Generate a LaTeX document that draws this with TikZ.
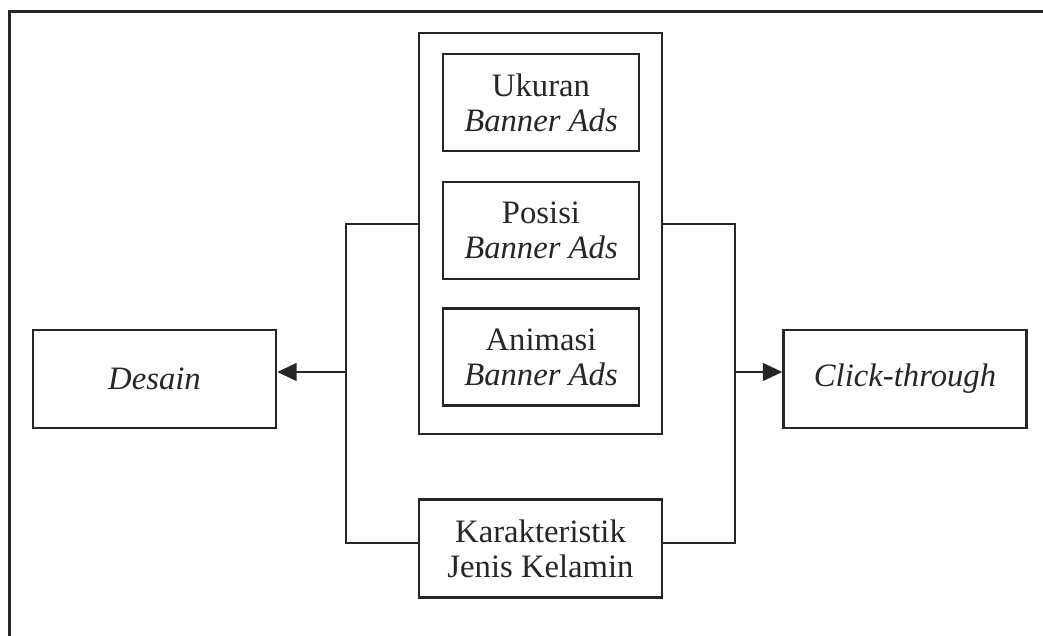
\documentclass[tikz,border=0pt]{standalone}
\usepackage{fontspec}
\setmainfont{Liberation Serif}
\usetikzlibrary{arrows.meta}
\begin{document}
\begin{tikzpicture}
	[
		every node/.style = {
			shape=rectangle, draw,
			align=center, inner sep=0pt,
			line width=.7pt,
			font=\fontsize{9.3}{10}\selectfont
		},
		line width=.7pt,
		color=black!85,
		box/.style={minimum width=2.43cm, minimum height=.98cm},
		item/.style={minimum width=1.96cm, minimum height=.97cm},
		link/.style={-{Triangle[length=5.5pt,width=5pt]}}
	]
	\useasboundingbox (0,0) rectangle (10.43,6.36);
	% frame of the page
	\draw (0.095,0) -- (0.095,6.245) -- (10.43,6.245);

	\node[minimum width=2.43cm, minimum height=4.01cm] (grp) at (5.405,4.025) {};
	\node[item] (ukuran) at (5.41,5.335) {Ukuran\\\textit{Banner Ads}};
	\node[item] (posisi) at (5.41,4.055) {Posisi\\\textit{Banner Ads}};
	\node[item] (animasi) at (5.41,2.79) {Animasi\\\textit{Banner Ads}};
	\node[box] (gender) at (5.405,0.875) {Karakteristik\\Jenis Kelamin};
	\node[box] (desain) at (1.545,2.57) {\textit{Desain}};
	\node[box] (click) at (9.05,2.57) {\textit{Click-through}};

	\coordinate (lft) at (3.46,2.64);
	\coordinate (rgt) at (7.35,2.64);

	\draw (grp.west |- 0,4.12) -| (lft) |- ([yshift=.55mm]gender.west);
	\draw (grp.east |- 0,4.12) -| (rgt) |- ([yshift=.55mm]gender.east);
	\draw[link] (lft) -- (desain.east |- lft);
	\draw[link] (rgt) -- (click.west |- rgt);
\end{tikzpicture}
\end{document}
